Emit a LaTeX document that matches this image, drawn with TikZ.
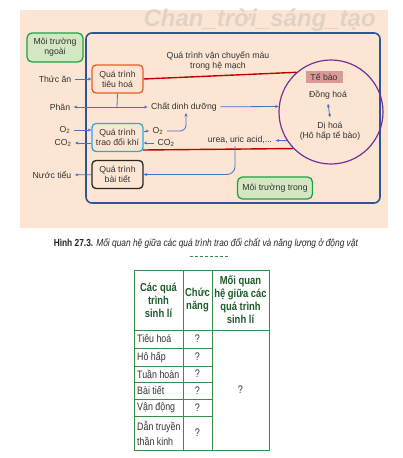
\documentclass[tikz,border=0pt]{standalone}
\usepackage{fontspec}
\setmainfont{Liberation Sans}
\newfontfamily\condfont[FakeStretch=0.82]{Liberation Sans}
\usetikzlibrary{arrows.meta,positioning}
\definecolor{bgbeige}{HTML}{FCE6D3}
\definecolor{frameblue}{HTML}{2E5597}
\definecolor{flowblue}{HTML}{4472C4}
\definecolor{bloodred}{HTML}{C00000}
\definecolor{envgreen}{HTML}{22A046}
\definecolor{envfill}{HTML}{D3E8C2}
\definecolor{digestorange}{HTML}{F05A28}
\definecolor{gascyan}{HTML}{29A9E0}
\definecolor{cellviolet}{HTML}{7030A0}
\definecolor{cellpink}{HTML}{D99A97}
\definecolor{tabgreen}{HTML}{3A8C4A}
\definecolor{headgreen}{HTML}{1E5A2C}
\definecolor{txtgray}{HTML}{333333}
\definecolor{wmgray}{HTML}{E2D2C5}
\tikzset{
  procbox/.style={draw, rounded corners=4pt, line width=1.3pt, align=center,
    minimum width=51pt, minimum height=28pt, inner sep=1pt},
  envbox/.style={draw=envgreen, fill=envfill, rounded corners=5pt, line width=1.3pt,
    align=center, inner sep=1pt},
  flow/.style={flowblue, line width=0.8pt, -{Stealth[length=3.5pt,width=3pt]}},
  flowboth/.style={flowblue, line width=0.8pt, {Stealth[length=3.5pt,width=3pt]}-{Stealth[length=3.5pt,width=3pt]}},
  blood/.style={bloodred, line width=1.4pt},
  tabline/.style={tabgreen, line width=0.9pt},
  tabhead/.style={font=\condfont\fontsize{11.5}{13}\selectfont\bfseries, text=headgreen, align=center},
  tabcell/.style={font=\condfont\fontsize{10.8}{15}\selectfont, text=txtgray, align=left, anchor=west, inner sep=0pt},
  tabask/.style={font=\condfont\fontsize{11}{12}\selectfont, text=txtgray}
}
\def\TabL{134}
\def\TabA{183}
\def\TabB{212}
\def\TabR{269}

\begin{document}
\begin{tikzpicture}[x=1pt,y=-1pt,font=\fontsize{8.7}{10}\selectfont,text=txtgray]
\useasboundingbox (0,0) rectangle (402,458);
\begin{scope}
\clip (0,0) rectangle (402,458);
% background panel
\fill[bgbeige] (20,10) rectangle (388,228);
\node[font=\fontsize{24}{24}\selectfont\bfseries\itshape, text=wmgray, anchor=west] (wmark) at (140,20) {Chan\_trời\_sáng\_tạo};
\end{scope}
% inner environment frame
\draw[frameblue, line width=1.6pt, rounded corners=6pt] (86,33) rectangle (380,203);
% 
\node[envbox, minimum width=56pt, minimum height=29pt] (outer) at (55,47.5) {Môi trường\\ngoài};
\node[envbox, minimum width=75pt, minimum height=22pt] (inner) at (275,188) {Môi trường trong};
% processes
\node[procbox, draw=digestorange] (digest) at (117.5,79) {Quá trình\\tiêu hoá};
\node[procbox, draw=gascyan] (gas) at (117.5,137.5) {Quá trình\\trao đổi khí};
\node[procbox, draw=black!85] (excr) at (117.5,174.5) {Quá trình\\bài tiết};
% cell
\node[draw=cellviolet, line width=1.2pt, circle, minimum size=104pt] (cell) at (331,112) {};
\node[fill=cellpink, minimum width=37pt, minimum height=12pt, inner sep=1pt] (celllabel) at (324,77) {Tế bào};
\node (anab) at (328,95) {Đồng hoá};
\node[align=center] (catab) at (330,131) {Dị hoá\\(Hô hấp tế bào)};
\draw[flowboth] ([yshift=-1pt]anab.south) -- ([yshift=1pt]catab.north);
% substances
\node (food) at (55,79) {Thức ăn};
\node (feces) at (60,107) {Phân};
\node (nutri) at (184,107) {Chất dinh dưỡng};
\node (o2in) at (65,130) {O\textsubscript{2}};
\node (co2out) at (63,143) {CO\textsubscript{2}};
\node (o2out) at (158,131) {O\textsubscript{2}};
\node (co2in) at (166,143) {CO\textsubscript{2}};
\node (urea) at (240,140) {urea, uric acid,...};
\node (urine) at (52,175) {Nước tiểu};
\node[align=center] (bloodtxt) at (218,61) {Quá trình vận chuyển máu\\trong hệ mạch};
% 
\coordinate (split) at (117,107);
\coordinate (o2join) at (186,113);
\coordinate (gasred) at (143,150);
\coordinate (ureadown) at (235,146);
% 
\draw[blood] (digest.east) -- (cell.131);
\draw[blood] (gasred) -- (cell.224);
\draw[flow] (food) -- (digest);
\draw[flowblue, line width=0.8pt] (digest.south) -- (split);
\draw[flow] (split) -- (feces);
\draw[flow] (split) -- (nutri);
\draw[flow] (nutri) -- (cell.174);
\draw[flow] (o2in) -- (gas.west |- o2in);
\draw[flow] (gas.west |- co2out) -- (co2out);
\draw[flow] (gas.east |- o2out) -- (o2out);
\draw[flow, rounded corners=6pt] (o2out.east) -| (o2join);
\draw[flow] (co2in) -- (gas.east |- co2in);
\draw[flow] (cell.213) -- (urea);
\draw[flow, rounded corners=8pt] (ureadown) |- (excr.east);
\draw[flow] (excr) -- (urine);
% caption
\node[font=\condfont\fontsize{10.2}{12}\selectfont, text=black!85] (caption) at (206,243) {\textbf{Hình 27.3.} \textit{Mối quan hệ giữa các quá trình trao đổi chất và năng lượng ở động vật}};
\draw[tabgreen, line width=1pt, dash pattern=on 3pt off 2pt] (190,256) -- (228,256);
% table
\draw[tabline] (\TabL,270) rectangle (\TabR,450);
\draw[tabline] (\TabA,270) -- (\TabA,450);
\draw[tabline] (\TabB,270) -- (\TabB,450);
\draw[tabline] (\TabL,330) -- (\TabR,330);
\foreach \y in {348,366,382,399,416}
  \draw[tabline] (\TabL,\y) -- (\TabB,\y);
\node[tabhead] (headproc) at (158.5,300) {Các quá\\trình\\sinh lí};
\node[tabhead] (headfunc) at (197.5,300) {Chức\\năng};
\node[tabhead] (headrel) at (240.5,300) {Mối quan\\hệ giữa các\\quá trình\\sinh lí};
\foreach \n/\y/\t in {digestrow/339/Tiêu hoá, breathrow/357/Hô hấp, circrow/374/Tuần hoàn, excrrow/390.5/Bài tiết, moverow/407.5/Vận động, nerverow/433/{Dẫn truyền\\thần kinh}} {
  \node[tabcell] (\n) at (137,\y) {\t};
  \node[tabask] (\n ask) at (197.5,\y) {?};
}
\node[tabask] (relask) at (240.5,390) {?};
\end{tikzpicture}
\end{document}
